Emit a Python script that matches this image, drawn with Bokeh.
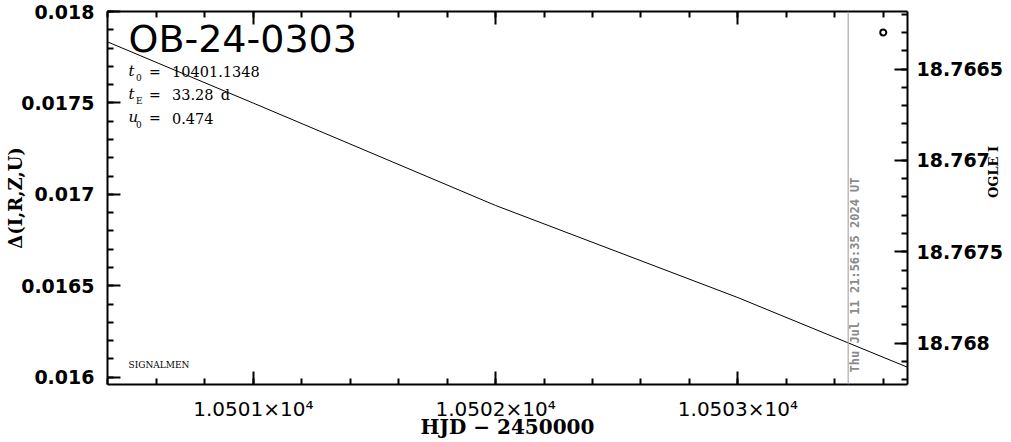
import math
from bokeh.plotting import figure
from bokeh.models import (Range1d, LinearAxis, SingleIntervalTicker,
                          CustomJSTickFormatter, Span, Label)
from bokeh.embed import file_html
from bokeh.resources import INLINE

# ---------------- data ----------------
model_hjd = [10500.40, 10501.0, 10502.0, 10503.0, 10503.70]
model_delta = [0.017833, 0.017499, 0.016939, 0.016435, 0.016054]
ogle_hjd = [10503.60]
ogle_mag = [18.76630]
now_hjd = 10503.455
now_text = "Thu Jul 11 21:56:35 2024 UT"
x_lim = (10500.398, 10503.70)
delta_lim = (0.0159596, 0.0180003)
ogle_lim = (18.768226, 18.766185)   # inverted magnitude axis
event_name = "OB-24-0303"
param_names = ["t", "t", "u"]
param_subs = ["0", "E", "0"]
param_values = ["10401.1348", "33.28\u2002d", "0.474"]
credit = "SIGNALMEN"
x_title = "HJD \u2212 2450000"
left_title = "\u0394(I,R,Z,U)"
right_title = "OGLE I"

# ---------------- figure ----------------
p = figure(width=1011, height=442, output_backend="svg", toolbar_location=None,
           x_range=Range1d(*x_lim), y_range=Range1d(*delta_lim),
           min_border_left=107, min_border_right=103,
           min_border_top=11, min_border_bottom=58)
p.extra_y_ranges = {"ogle": Range1d(*ogle_lim)}
p.grid.visible = False
p.outline_line_color = None
p.background_fill_color = "white"
p.border_fill_color = "white"

num_fmt = CustomJSTickFormatter(code="return String(parseFloat(tick.toFixed(4)));")
x_fmt = CustomJSTickFormatter(code="return (tick/1e4).toFixed(4) + '\u00d710\u2074';")
blank_fmt = CustomJSTickFormatter(code="return '';")


def style_axis(ax):
    ax.axis_line_width = 2
    ax.axis_line_color = "black"
    ax.major_tick_line_width = 2
    ax.minor_tick_line_width = 2
    ax.major_tick_in = 13
    ax.major_tick_out = 0
    ax.minor_tick_in = 6
    ax.minor_tick_out = 0


# bottom axis
xa = p.xaxis[0]
xa.ticker = SingleIntervalTicker(interval=1, num_minor_ticks=5)
xa.formatter = x_fmt
style_axis(xa)
xa.major_label_text_font = "DejaVu Sans"
xa.major_label_text_font_size = "20px"
xa.major_label_text_color = "black"
xa.major_label_standoff = 12
xa.axis_label = x_title
xa.axis_label_text_font = "DejaVu Serif"
xa.axis_label_text_font_style = "bold"
xa.axis_label_text_font_size = "20px"
xa.axis_label_text_color = "black"
xa.axis_label_standoff = -9

# top axis (ticks only)
ta = LinearAxis(ticker=SingleIntervalTicker(interval=1, num_minor_ticks=5),
                formatter=blank_fmt, major_label_text_font_size="0px",
                major_label_standoff=0)
style_axis(ta)
p.add_layout(ta, "above")

# left axis
ya = p.yaxis[0]
ya.ticker = SingleIntervalTicker(interval=0.0005, num_minor_ticks=5)
ya.formatter = num_fmt
style_axis(ya)
ya.major_label_text_font = "DejaVu Sans"
ya.major_label_text_font_style = "bold"
ya.major_label_text_font_size = "19px"
ya.major_label_text_color = "black"
ya.major_label_standoff = 13
ya.axis_label = left_title
ya.axis_label_text_font = "DejaVu Serif"
ya.axis_label_text_font_style = "bold"
ya.axis_label_text_font_size = "18px"
ya.axis_label_text_color = "black"
ya.axis_label_standoff = -8

# right axis (OGLE I)
ra = LinearAxis(y_range_name="ogle",
                ticker=SingleIntervalTicker(interval=0.0005, num_minor_ticks=5),
                formatter=num_fmt)
style_axis(ra)
ra.major_label_text_font = "DejaVu Sans"
ra.major_label_text_font_style = "bold"
ra.major_label_text_font_size = "19px"
ra.major_label_text_color = "black"
ra.major_label_standoff = 9
ra.axis_label = right_title
ra.axis_label_text_font = "DejaVu Serif"
ra.axis_label_text_font_style = "bold"
ra.axis_label_text_font_size = "13px"
ra.axis_label_text_color = "black"
ra.axis_label_standoff = -13
ra.axis_label_orientation = math.pi / 2
p.add_layout(ra, "right")

# ---------------- marks ----------------
p.line(model_hjd, model_delta, line_color="black", line_width=1)
p.scatter(ogle_hjd, ogle_mag, y_range_name="ogle", marker="circle", size=6,
          fill_color=None, line_color="black", line_width=2)

p.add_layout(Span(location=now_hjd, dimension="height",
                  line_color="#9a9a9a", line_width=1))
p.add_layout(Label(x=now_hjd, y=delta_lim[0], x_offset=7, y_offset=12,
                   text=now_text, angle=math.pi / 2,
                   text_align="left", text_baseline="middle",
                   text_font="DejaVu Sans Mono", text_font_style="bold",
                   text_font_size="12px", text_color="#8a8a8a"))

# ---------------- texts in the frame (anchored at glyph centres) ----------------
x0, ytop, ybot = x_lim[0], delta_lim[1], delta_lim[0]
p.add_layout(Label(x=x0, y=ytop, x_offset=21, y_offset=-27, text=event_name,
                   text_font="DejaVu Sans", text_font_size="38px",
                   text_baseline="middle", text_color="black"))

for i, (nm, sb, val) in enumerate(zip(param_names, param_subs, param_values)):
    mid = -60 - 23.3 * i
    p.add_layout(Label(x=x0, y=ytop, x_offset=21, y_offset=mid + 1, text=nm,
                       text_font="DejaVu Serif", text_font_style="italic",
                       text_font_size="15px", text_baseline="middle",
                       text_color="black"))
    p.add_layout(Label(x=x0, y=ytop, x_offset=28.5, y_offset=mid - 6, text=sb,
                       text_font="DejaVu Serif", text_font_size="9px",
                       text_baseline="middle", text_color="black"))
    p.add_layout(Label(x=x0, y=ytop, x_offset=41.5, y_offset=mid, text="=",
                       text_font="DejaVu Serif", text_font_size="14px",
                       text_baseline="middle", text_color="black"))
    p.add_layout(Label(x=x0, y=ytop, x_offset=64.5, y_offset=mid, text=val,
                       text_font="DejaVu Serif", text_font_size="14.5px",
                       text_baseline="middle", text_color="black"))

p.add_layout(Label(x=x0, y=ybot, x_offset=21, y_offset=20, text=credit,
                   text_font="DejaVu Serif", text_font_size="9px",
                   text_baseline="middle", text_color="black"))

open("out.html", "w").write(file_html(p, INLINE))
